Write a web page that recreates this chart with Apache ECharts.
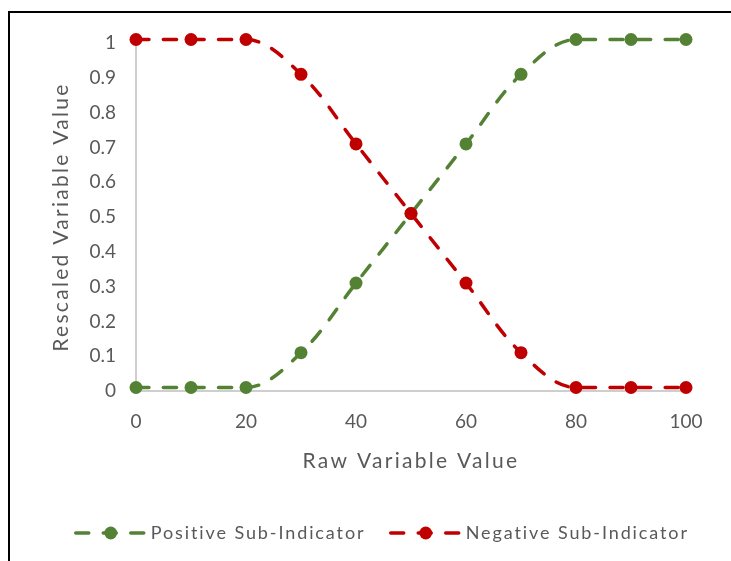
<!DOCTYPE html>
<html>
<head>
<meta charset="utf-8">
<script src="https://cdn.jsdelivr.net/npm/echarts@6/dist/echarts.min.js"></script>
<style>
  html, body { margin: 0; padding: 0; background: #fff; }
  #chart { width: 731px; height: 561px; }
</style>
</head>
<body>
<div id="chart"></div>
<script>
// Raw variable values (x) and the two rescaled sub-indicators
const rawValues = [0, 10, 20, 30, 40, 50, 60, 70, 80, 90, 100];
const positiveValues = [0.01, 0.01, 0.01, 0.11, 0.31, 0.51, 0.71, 0.91, 1.01, 1.01, 1.01];
const negativeValues = [1.01, 1.01, 1.01, 0.91, 0.71, 0.51, 0.31, 0.11, 0.01, 0.01, 0.01];
const seriesNames = ['Positive Sub-Indicator', 'Negative Sub-Indicator'];
const seriesColors = ['#548235', '#C00000'];

const FONT = 'Lato';
const TEXT_GRAY = '#595959';
const TICK_SIZE = 19;
const LEGEND_SIZE = 18;
const TITLE_SIZE = 21;

// Slightly tracked-out lettering for the axis titles and legend text;
// every other label is drawn with normal spacing.
const trackingBySize = { [LEGEND_SIZE]: 1.9, [TITLE_SIZE]: 2.3 };
const nativeFillText = CanvasRenderingContext2D.prototype.fillText;
CanvasRenderingContext2D.prototype.fillText = function (text, x, y, maxWidth) {
  if ('letterSpacing' in this) {
    const font = this.font;
    const m = /(\d+(?:\.\d+)?)px/.exec(font);
    const track = (m && trackingBySize[Math.round(parseFloat(m[1]))]) || 0;
    const wanted = track + 'px';
    if (this.letterSpacing !== wanted) {
      this.letterSpacing = wanted;
      // re-resolve the font so the new spacing takes effect
      this.font = '10px sans-serif';
      this.font = font;
    }
  }
  return maxWidth === undefined
    ? nativeFillText.call(this, text, x, y)
    : nativeFillText.call(this, text, x, y, maxWidth);
};

function pairs(ys) {
  return rawValues.map((x, i) => [x, ys[i]]);
}

function makeSeries(name, ys, color) {
  return {
    name: name,
    type: 'line',
    data: pairs(ys),
    smooth: 0.35,
    clip: false,
    symbol: 'circle',
    symbolSize: 13,
    itemStyle: { color: color },
    lineStyle: { color: color, width: 3.5, type: [13, 14.5], cap: 'round' }
  };
}

const chart = echarts.init(document.getElementById('chart'), null, { renderer: 'canvas' });
chart.setOption({
  animation: false,
  backgroundColor: '#fff',
  grid: { left: 136, right: 45, top: 43, bottom: 170 },
  graphic: [{
    type: 'rect',
    shape: { x: 9, y: 12, width: 900, height: 700 },
    style: { fill: 'none', stroke: '#000', lineWidth: 2 },
    z: -1
  }],
  xAxis: {
    type: 'value',
    min: 0, max: 100, interval: 20,
    name: 'Raw Variable Value',
    nameLocation: 'middle',
    nameGap: 60,
    nameTextStyle: { fontFamily: FONT, fontSize: TITLE_SIZE, color: TEXT_GRAY },
    axisLine: { show: true, lineStyle: { color: '#BFBFBF', width: 1.5 } },
    axisTick: { show: false },
    splitLine: { show: false },
    axisLabel: { fontFamily: FONT, fontSize: TICK_SIZE, color: TEXT_GRAY, margin: 21 }
  },
  yAxis: {
    type: 'value',
    min: 0, max: 1, interval: 0.1,
    name: 'Rescaled Variable Value',
    nameLocation: 'middle',
    nameGap: 64,
    nameTextStyle: { fontFamily: FONT, fontSize: TITLE_SIZE, color: TEXT_GRAY },
    axisLine: { show: true, lineStyle: { color: '#BFBFBF', width: 1.5 } },
    axisTick: { show: false },
    splitLine: { show: false },
    axisLabel: {
      fontFamily: FONT, fontSize: TICK_SIZE, color: TEXT_GRAY, margin: 20,
      formatter: v => String(Math.round(v * 10) / 10)
    }
  },
  legend: {
    left: 69,
    top: 519,
    itemWidth: 70,
    itemHeight: 16,
    itemGap: 65,
    lineStyle: { width: 3.5 },
    textStyle: { fontFamily: FONT, fontSize: LEGEND_SIZE, color: TEXT_GRAY },
    data: seriesNames
  },
  series: [
    makeSeries(seriesNames[0], positiveValues, seriesColors[0]),
    makeSeries(seriesNames[1], negativeValues, seriesColors[1])
  ]
});
</script>
</body>
</html>
